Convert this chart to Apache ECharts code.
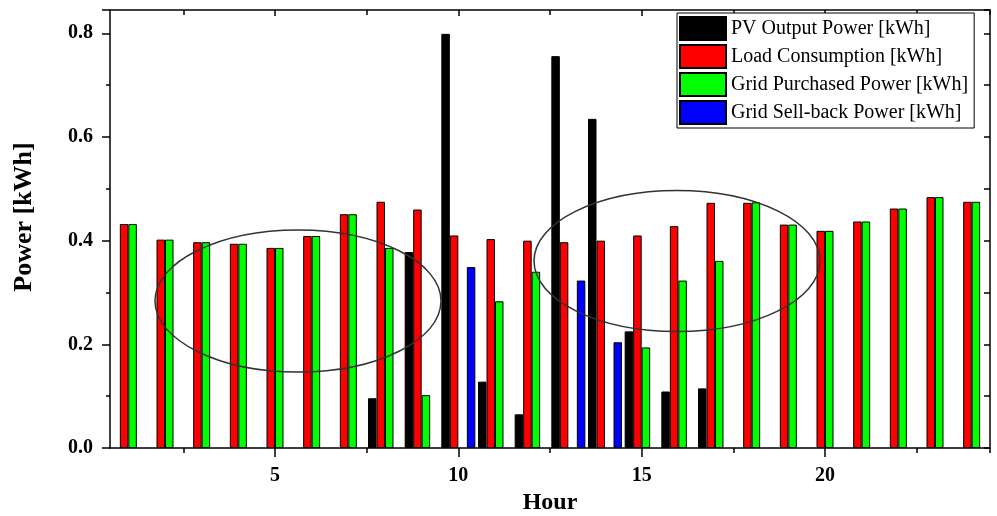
<!DOCTYPE html>
<html>
<head>
<meta charset="utf-8">
<title>Power [kWh] by Hour</title>
<script src="https://cdn.jsdelivr.net/npm/echarts@6/dist/echarts.min.js"></script>
<style>
    html, body { margin: 0; padding: 0; background: #fff; }
    #container { width: 997px; height: 516px; }
</style>
</head>
<body>
<div id="container"></div>
<script>
var hours = ['1', '2', '3', '4', '5', '6', '7', '8', '9', '10', '11', '12',
    '13', '14', '15', '16', '17', '18', '19', '20', '21', '22', '23', '24'];
var pvOutput = [0, 0, 0, 0, 0, 0, 0, 0.096, 0.378, 0.799, 0.128, 0.065,
    0.756, 0.635, 0.225, 0.109, 0.115, 0, 0, 0, 0, 0, 0, 0];
var loadConsumption = [0.432, 0.402, 0.397, 0.394, 0.386, 0.409, 0.451, 0.475, 0.460, 0.410, 0.403, 0.400,
    0.397, 0.400, 0.410, 0.428, 0.473, 0.473, 0.431, 0.419, 0.437, 0.462, 0.484, 0.475];
var gridPurchased = [0.432, 0.402, 0.397, 0.394, 0.386, 0.409, 0.451, 0.386, 0.102, 0, 0.283, 0.340,
    0, 0, 0.194, 0.323, 0.361, 0.474, 0.431, 0.419, 0.437, 0.462, 0.484, 0.475];
var gridSellBack = [0, 0, 0, 0, 0, 0, 0, 0, 0, 0.349, 0, 0,
    0.323, 0.204, 0, 0, 0, 0, 0, 0, 0, 0, 0, 0];

var serif = 'Liberation Serif';

function majorHour(i) { return i % 5 === 4; }
function minorHour(i) { return i % 5 === 2; }

function makeBar(name, color, data) {
    return {
        name: name,
        type: 'bar',
        // zero hours draw no bar (avoids border stubs on the axis)
        data: data.map(function (v) { return v === 0 ? '-' : v; }),
        barWidth: 8.5,
        barGap: '0%',
        itemStyle: { color: color, borderColor: '#000', borderWidth: 1 }
    };
}

function printChart() {
    var dom = document.getElementById('container');
    var myChart = echarts.init(dom, null, { renderer: 'canvas' });
    var line = { show: true, lineStyle: { color: '#000', width: 1.5 } };
    var option = {
        animation: false,
        backgroundColor: '#fff',
        textStyle: { fontFamily: serif, color: '#000' },
        grid: { left: 110, right: 7, top: 10, bottom: 68, containLabel: false, outerBoundsMode: 'none' },
        legend: {
            orient: 'vertical',
            left: 677,
            top: 13,
            itemWidth: 46,
            itemHeight: 23,
            itemGap: 3,
            padding: [3, 6, 3, 2],
            borderColor: '#000',
            borderWidth: 1,
            backgroundColor: '#fff',
            icon: 'rect',
            textStyle: { fontFamily: serif, fontSize: 20, lineHeight: 22, color: '#000' }
        },
        xAxis: [
            {
                type: 'category', data: hours, position: 'bottom',
                axisLine: line,
                axisTick: { show: true, alignWithLabel: true, interval: majorHour, length: 9, lineStyle: { color: '#000', width: 1.5 } },
                axisLabel: { interval: majorHour, margin: 18, fontFamily: serif, fontWeight: 'bold', fontSize: 20, color: '#000' },
                name: 'Hour', nameLocation: 'middle', nameGap: 41,
                nameTextStyle: { fontFamily: serif, fontWeight: 'bold', fontSize: 24, color: '#000' }
            },
            {
                type: 'category', data: hours, position: 'bottom',
                axisLine: { show: false },
                axisTick: { show: true, alignWithLabel: false, interval: minorHour, length: 5, lineStyle: { color: '#000', width: 1.5 } },
                axisLabel: { show: false }
            },
            {
                type: 'category', data: hours, position: 'top',
                axisLine: line,
                axisTick: { show: true, inside: true, alignWithLabel: true, interval: majorHour, length: 6, lineStyle: { color: '#000', width: 1.5 } },
                axisLabel: { show: false }
            },
            {
                type: 'category', data: hours, position: 'top',
                axisLine: { show: false },
                axisTick: { show: true, inside: true, alignWithLabel: false, interval: minorHour, length: 5, lineStyle: { color: '#000', width: 1.5 } },
                axisLabel: { show: false }
            }
        ],
        yAxis: [
            {
                type: 'value', position: 'left', min: 0, max: 0.845, interval: 0.2,
                axisLine: line,
                axisTick: { show: true, length: 8, lineStyle: { color: '#000', width: 1.5 } },
                minorTick: { show: true, splitNumber: 2, length: 4, lineStyle: { color: '#000', width: 1.5 } },
                splitLine: { show: false },
                axisLabel: {
                    showMaxLabel: false, margin: 17,
                    fontFamily: serif, fontWeight: 'bold', fontSize: 20, color: '#000',
                    formatter: function (v) { return v.toFixed(1); }
                },
                name: 'Power [kWh]', nameLocation: 'middle', nameGap: 73,
                nameTextStyle: { fontFamily: serif, fontWeight: 'bold', fontSize: 26, color: '#000', padding: [0, 0, 0, 24] }
            },
            {
                type: 'value', position: 'right', min: 0, max: 0.845, interval: 0.2,
                axisLine: line,
                axisTick: { show: true, inside: true, length: 6, lineStyle: { color: '#000', width: 1.5 } },
                minorTick: { show: true, splitNumber: 2, length: 6, lineStyle: { color: '#000', width: 1.5 } },
                splitLine: { show: false },
                axisLabel: { show: false }
            }
        ],
        series: [
            makeBar('PV Output Power [kWh]', '#000000', pvOutput),
            makeBar('Load Consumption [kWh]', '#ff0000', loadConsumption),
            makeBar('Grid Purchased Power [kWh]', '#00ff00', gridPurchased),
            makeBar('Grid Sell-back Power [kWh]', '#0000ff', gridSellBack)
        ],
        // the two hand-drawn ellipses of the original figure
        graphic: [
            {
                type: 'ellipse', z: 100, silent: true,
                shape: { cx: 298, cy: 301, rx: 143, ry: 71 },
                style: { fill: null, stroke: '#333', lineWidth: 1.5 }
            },
            {
                type: 'ellipse', z: 100, silent: true,
                shape: { cx: 677, cy: 261, rx: 143, ry: 70.5 },
                style: { fill: null, stroke: '#333', lineWidth: 1.5 }
            }
        ]
    };
    myChart.setOption(option, true);
}

printChart();
</script>
</body>
</html>
